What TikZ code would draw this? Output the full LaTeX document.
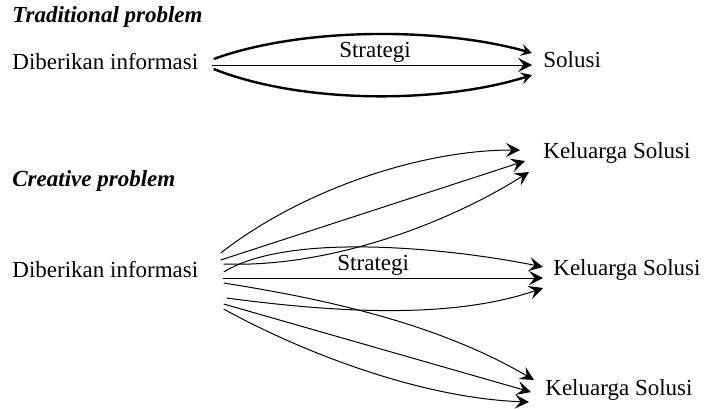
\documentclass[tikz,border=0pt]{standalone}
\usepackage{fontspec}
\setmainfont{Liberation Serif}
\usetikzlibrary{arrows.meta}

\begin{document}
\begin{tikzpicture}
    [x=0.5pt,y=-0.5pt,
     txt/.style={anchor=west,inner sep=0pt,font=\fontsize{11.5}{13}\selectfont},
     ttl/.style={txt,font=\fontsize{11.5}{13}\selectfont\bfseries\itshape},
     lbl/.style={above,inner sep=1pt,font=\fontsize{11.5}{13}\selectfont},
     arr/.style={-{Stealth[length=7pt,width=7pt,inset=2.8pt]},line width=0.5pt},
     tarr/.style={arr,line width=1.2pt,-{Stealth[length=5.5pt,width=6pt,inset=2.2pt]}}]
    \useasboundingbox (0,0) rectangle (704,408);
    \node [ttl] (trad) at (12,17) {Traditional problem};
    \node [txt] (info1) at (12,62) {Diberikan informasi};
    \node [txt] (sol) at (543,60) {Solusi};
    \draw[tarr] ([shift={(15,-3)}]info1.east) .. controls +(88,-32) and +(-92,-26) .. ([shift={(-11,-7)}]sol.west);
    \draw[arr] ([shift={(13,3)}]info1.east) -- node[pos=0.51,lbl] (strat1) {Strategi} ([shift={(-11,5)}]sol.west);
    \draw[tarr] ([shift={(15,7)}]info1.east) .. controls +(88,35) and +(-92,29) .. ([shift={(-11,15)}]sol.west);
    \node [ttl] (creat) at (12,181) {Creative problem};
    \node [txt] (info2) at (12,270) {Diberikan informasi};
    \node [txt] (fam1) at (543,153) {Keluarga Solusi};
    \node [txt] (fam2) at (553,270) {Keluarga Solusi};
    \node [txt] (fam3) at (545,390) {Keluarga Solusi};
    \draw[arr] ([shift={(22,-17)}]info2.east) .. controls +(81,-63) and +(-100,0) .. ([shift={(-23,-3)}]fam1.west);
    \draw[arr] ([shift={(22,-10)}]info2.east) -- ([shift={(-18,8)}]fam1.west);
    \draw[arr] ([shift={(25,-6)}]info2.east) .. controls +(108,4) and +(-79,50) .. ([shift={(-14,19)}]fam1.west);
    \draw[arr] ([shift={(25,2)}]info2.east) .. controls +(68,-42) and +(-83,-17) .. ([shift={(-10,-3)}]fam2.west);
    \draw[arr] ([shift={(24,8)}]info2.east) -- node[pos=0.47,lbl] (strat2) {Strategi} ([shift={(-10,8)}]fam2.west);
    \draw[arr] ([shift={(28,28)}]info2.east) .. controls +(105,14) and +(-93,32) .. ([shift={(-10,18)}]fam2.west);
    \draw[arr] ([shift={(25,13)}]info2.east) .. controls +(108,17) and +(-94,-55) .. ([shift={(-11,-10)}]fam3.west);
    \draw[arr] ([shift={(25,34)}]info2.east) -- ([shift={(-14,2)}]fam3.west);
    \draw[arr] ([shift={(25,39)}]info2.east) .. controls +(78,43) and +(-109,-4) .. ([shift={(-16,12)}]fam3.west);
  \end{tikzpicture}
\end{document}
